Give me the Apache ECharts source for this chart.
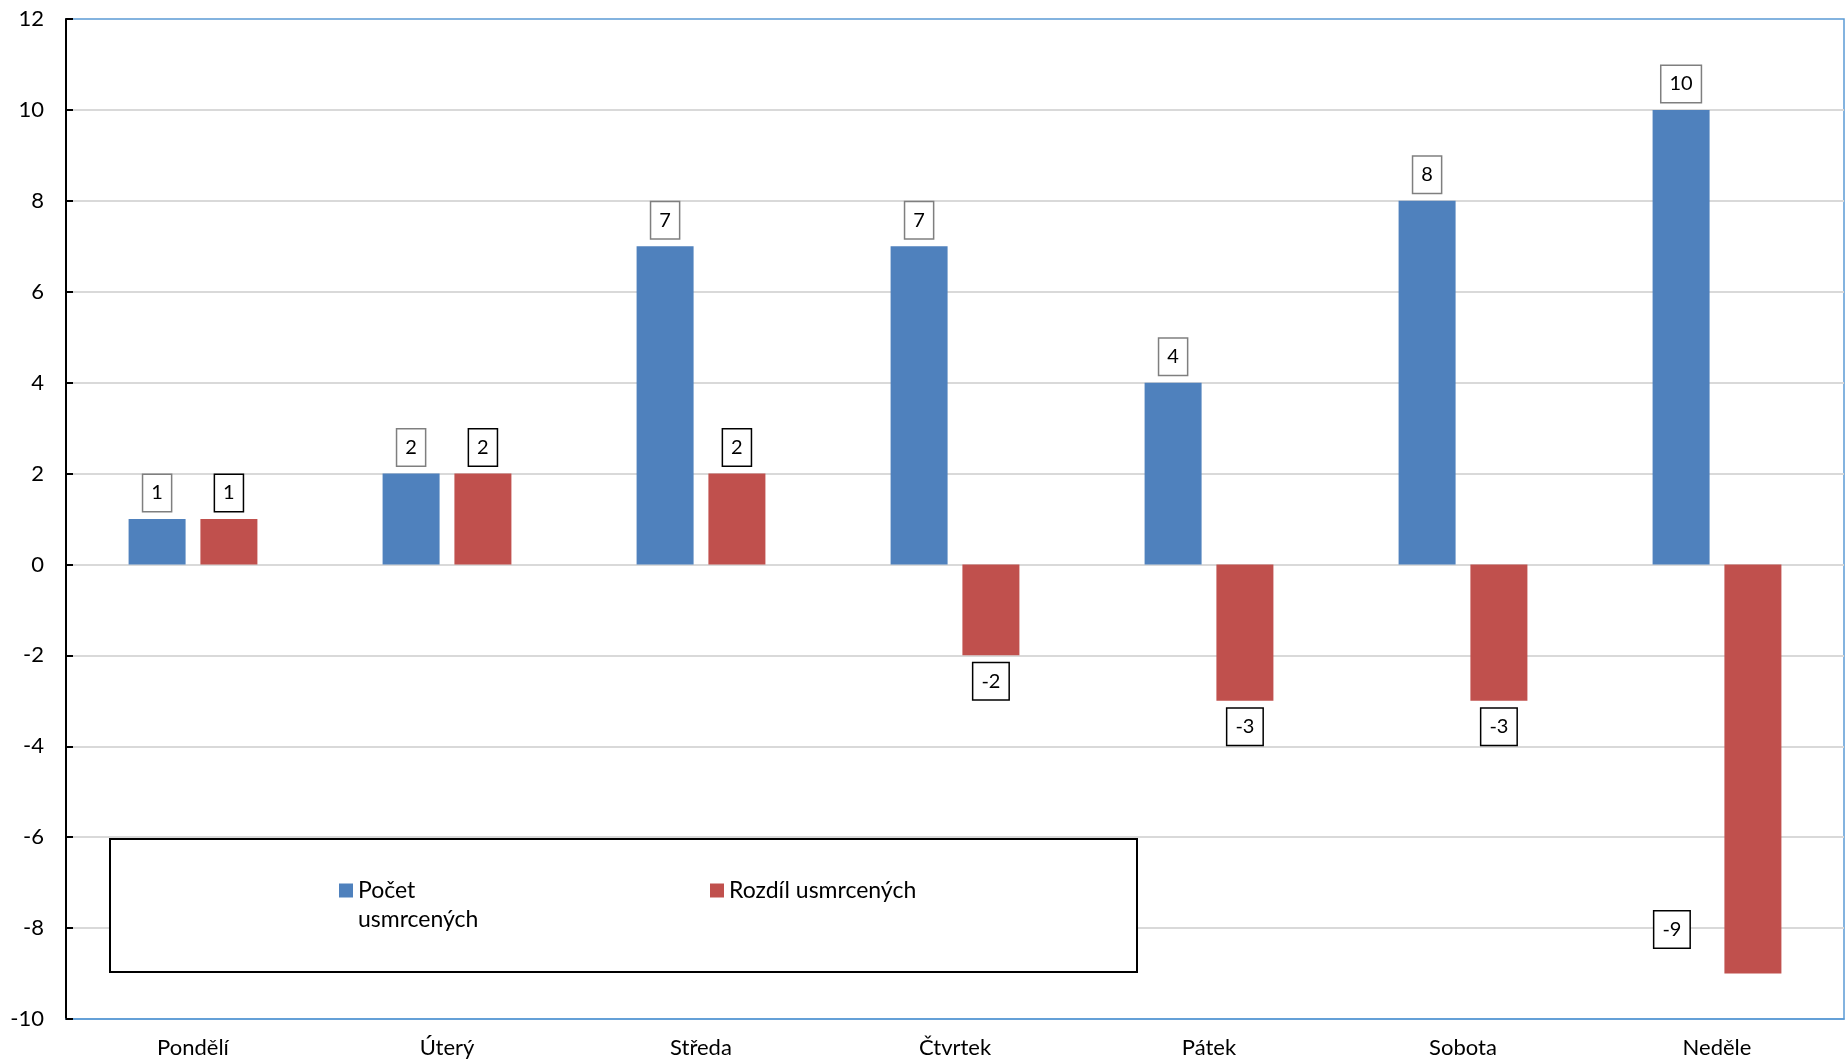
<!DOCTYPE html>
<html><head><meta charset="utf-8">
<script src="https://cdn.jsdelivr.net/npm/echarts@6/dist/echarts.min.js"></script>
<style>html,body{margin:0;padding:0;background:#fff}#c{width:1845px;height:1064px}</style>
</head><body><div id="c"></div>
<script>
const categories = ['Pondělí', 'Úterý', 'Středa', 'Čtvrtek', 'Pátek', 'Sobota', 'Neděle'];
const pocetUsmrcenych = [1, 2, 7, 7, 4, 8, 10];
const rozdilUsmrcenych = [1, 2, 2, -2, -3, -3, -9];
const seriesNames = ['Počet usmrcených', 'Rozdíl usmrcených'];
const yMin = -10, yMax = 12, yInterval = 2;

const FONT = 'Lato';
const chart = echarts.init(document.getElementById('c'));
const labelBase = {
  show: true, fontFamily: FONT, fontSize: 20, lineHeight: 20, color: '#000',
  backgroundColor: '#fff', borderWidth: 1.5, padding: [8, 8, 8, 8], distance: 8
};
chart.setOption({
  animation: false,
  textStyle: { fontFamily: FONT },
  grid: { left: 66, right: 1, top: 19, bottom: 45, show: true, borderColor: '#5b9bd5', borderWidth: 1.5, outerBoundsMode: 'none' },
  xAxis: {
    type: 'category', data: categories,
    axisLine: { onZero: false, lineStyle: { color: '#5b9bd5', width: 1.5 } },
    axisTick: { show: false },
    axisLabel: { fontFamily: FONT, fontSize: 22, color: '#000', margin: 18 }
  },
  yAxis: {
    type: 'value', min: yMin, max: yMax, interval: yInterval,
    axisLine: { show: true, lineStyle: { color: '#000', width: 2 } },
    axisTick: { show: true, inside: true, length: 7, lineStyle: { color: '#000', width: 2 } },
    axisLabel: { fontFamily: FONT, fontSize: 22, color: '#000', margin: 22 },
    splitLine: { show: true, showMinLine: false, showMaxLine: false, lineStyle: { color: '#d9d9d9', width: 2 } }
  },
  legend: [
    {
      data: [seriesNames[0]], left: 339, top: 847, padding: 0, itemWidth: 14, itemHeight: 14,
      icon: 'rect', selectedMode: false,
      formatter: n => '\n' + n.replace(' ', '\n'),
      textStyle: { fontFamily: FONT, fontSize: 23, lineHeight: 29, color: '#000' }
    },
    {
      data: [seriesNames[1]], left: 710, top: 876, padding: 0, itemWidth: 14, itemHeight: 14,
      icon: 'rect', selectedMode: false,
      textStyle: { fontFamily: FONT, fontSize: 23, lineHeight: 29, color: '#000' }
    }
  ],
  graphic: [{
    type: 'rect', left: 109, top: 838, z: 3,
    shape: { width: 1027, height: 133 },
    style: { fill: '#fff', stroke: '#000', lineWidth: 2 }
  }],
  series: [
    {
      name: seriesNames[0], type: 'bar', data: pocetUsmrcenych,
      barWidth: 57, barGap: '26%',
      itemStyle: { color: '#4f81bd' },
      label: Object.assign({}, labelBase, { position: 'top', borderColor: '#7f7f7f' })
    },
    {
      name: seriesNames[1], type: 'bar',
      data: rozdilUsmrcenych.map((v, i) => i === 6 ? { value: v, label: { offset: [-81, -70] } } : v),
      barWidth: 57, barGap: '26%',
      itemStyle: { color: '#c0504d' },
      label: Object.assign({}, labelBase, { position: 'outside', borderColor: '#000' })
    }
  ]
});
</script></body></html>
